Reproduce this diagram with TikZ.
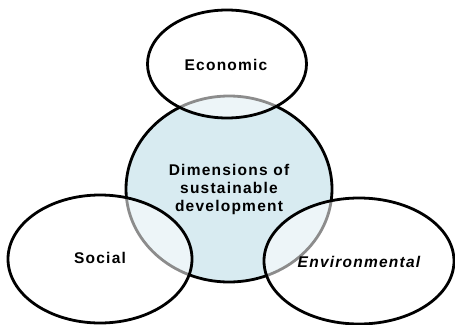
\documentclass[tikz,border=0pt]{standalone}
\usepackage{fontspec}
\setmainfont{Liberation Sans}
\newfontfamily\pillarfont[LetterSpace=8]{Liberation Sans}
\usepackage{tikz}
\usetikzlibrary{shapes.geometric}
\definecolor{dimblue}{RGB}{216,235,241}

\tikzset{
  dimcircle/.style={ellipse,draw=black,line width=2.8pt,fill=dimblue,minimum width=206pt,minimum height=186pt,inner sep=0pt},
  pillar/.style={ellipse,draw=black,line width=2.8pt,fill=white,fill opacity=0.55,inner sep=0pt},
  pillartext/.style={font=\pillarfont\fontsize{15.5}{19}\selectfont\bfseries,text opacity=1,align=center}
}

\begin{document}
\begin{tikzpicture}[x=1pt,y=-1pt]
\useasboundingbox (0,0) rectangle (455,324);
\node[dimcircle](dim) at (229,189) {};
\node[pillar,minimum width=159pt,minimum height=108pt](econ) at (227,64) {};
\node[pillar,minimum width=184pt,minimum height=128pt](soc) at (100,259) {};
\node[pillar,minimum width=190pt,minimum height=126pt](env) at (359,261) {};
\node[pillartext](dimtext) at (229,189) {Dimensions of\\[-1pt]sustainable\\[-1pt]development};
\node[pillartext](econtext) at (226,65) {Economic};
\node[pillartext](soctext) at (100,258) {Social};
\node[pillartext,font=\pillarfont\fontsize{15.5}{19}\selectfont\bfseries\itshape](envtext) at (359,262) {Environmental};
\end{tikzpicture}
\end{document}
